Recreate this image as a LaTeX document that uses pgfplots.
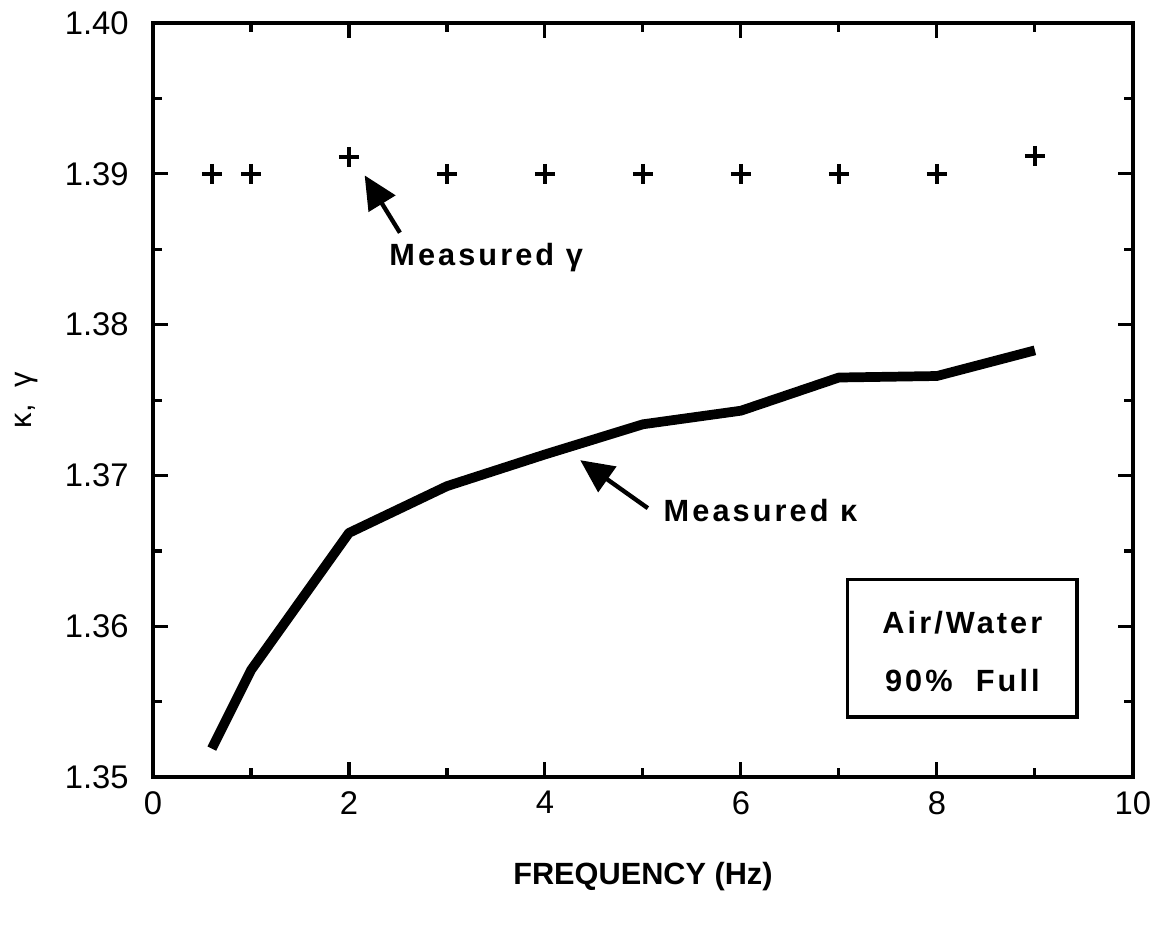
\documentclass[border=0pt]{standalone}
\usepackage{fontspec}
\setmainfont{Liberation Sans}
\newfontfamily\spaced[LetterSpace=10]{Liberation Sans}
\usepackage{pgfplots}
\pgfplotsset{compat=1.18}
\usetikzlibrary{arrows.meta}

% measured kappa (line) and gamma (+ marks)
\pgfplotstableread{
f     kappa
0.6   1.3519
1     1.3571
2     1.3662
3     1.3693
4     1.3714
5     1.3734
6     1.3743
7     1.3765
8     1.3766
9     1.3783
}\kappadata

\pgfplotstableread{
f     gamma
0.6   1.3900
1     1.3900
2     1.3911
3     1.3900
4     1.3900
5     1.3900
6     1.3900
7     1.3900
8     1.3900
9     1.3912
}\gammadata

\begin{document}
\begin{tikzpicture}
\begin{axis}[
  name=ax,
  scale only axis,
  width=383pt, height=294.8pt,
  xmin=0, xmax=10,
  ymin=1.35, ymax=1.40,
  xtick={0,2,4,6,8,10},
  ytick={1.35,1.36,1.37,1.38,1.39,1.40},
  minor x tick num=1,
  minor y tick num=1,
  tick align=inside,
  major tick length=6pt,
  minor tick length=3.5pt,
  every tick/.style={black, line width=1.2pt},
  axis line style={line width=1.5pt},
  /pgf/number format/assume math mode=true,
  ticklabel style={font=\fontsize{12.8}{15}\selectfont},
  yticklabel style={/pgf/number format/fixed,
    /pgf/number format/fixed zerofill,
    /pgf/number format/precision=2, xshift=-6pt},
  xticklabel style={yshift=-2pt},
  xlabel={FREQUENCY (Hz)},
  ylabel={κ,\ \ γ},
  xlabel style={at={(axis description cs:0.5,-0.1313)}, anchor=center,
    font=\fontsize{12}{14}\selectfont\bfseries},
  ylabel style={at={(axis description cs:-0.1287,0.5)}, anchor=center,
    font=\fontsize{12}{14}\selectfont},
  clip=false,
]
\addplot[black, line width=3.8pt, line join=round] table[x=f, y=kappa] {\kappadata};
\addplot[only marks, mark=+, mark size=3.9pt, mark options={line width=1.5pt}] table[x=f, y=gamma] {\gammadata};

% annotations
\draw[line width=1.7pt, -{Triangle[length=13pt, width=12pt]}]
  (axis cs:2.52,1.3861) -- (axis cs:2.16,1.3899);
\node[font=\fontsize{12}{14}\selectfont\spaced\bfseries] at (axis cs:3.40,1.38442) {Measured γ};
\draw[line width=1.7pt, -{Triangle[length=13pt, width=12pt]}]
  (axis cs:5.05,1.36784) -- (axis cs:4.36,1.37102);
\node[anchor=west, font=\fontsize{12}{14}\selectfont\spaced\bfseries] at (axis cs:5.12,1.3677) {Measured κ};

\draw[line width=1.3pt] (axis cs:7.09,1.3631) rectangle (axis cs:9.43,1.354);
\node[font=\fontsize{12}{14}\selectfont\spaced\bfseries] at (axis cs:8.26,1.36028) {Air/Water};
\node[font=\fontsize{12}{14}\selectfont\spaced\bfseries] at (axis cs:8.26,1.35644) {90\%\ \ Full};
\end{axis}
\pgfresetboundingbox
\path[use as bounding box] ([shift={(-59.8pt,-61pt)}]ax.south west) rectangle ([shift={(10.6pt,9pt)}]ax.north east);
\end{tikzpicture}
\end{document}
